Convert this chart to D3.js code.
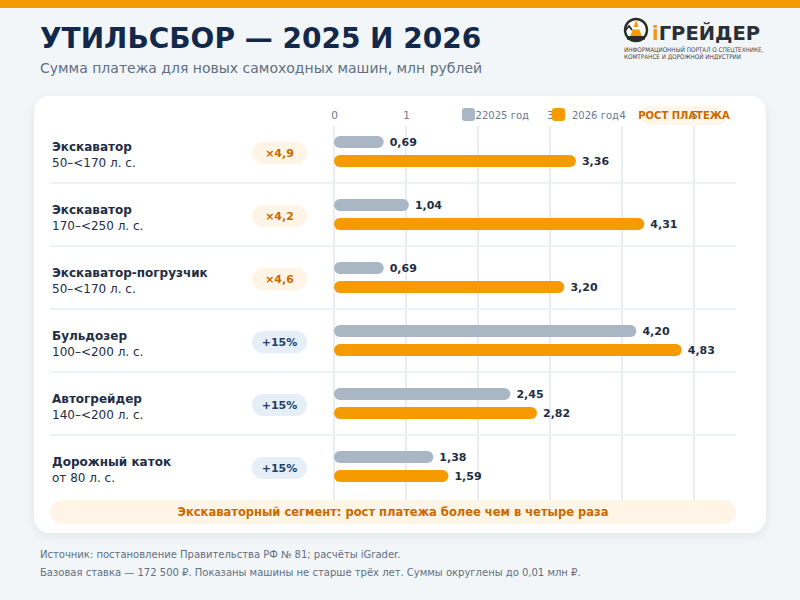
<!DOCTYPE html>
<html><head><meta charset="utf-8">
<script src="https://cdn.jsdelivr.net/npm/d3@7"></script>
<style>
html,body{margin:0;padding:0;background:#f3f6f9;}
svg{display:block;font-family:"DejaVu Sans",sans-serif;}
</style></head>
<body>
<svg id="c" width="800" height="600"></svg>
<script>
const names = ["Экскаватор","Экскаватор","Экскаватор-погрузчик","Бульдозер","Автогрейдер","Дорожный каток"];
const powers = ["50–<170 л. с.","170–<250 л. с.","50–<170 л. с.","100–<200 л. с.","140–<200 л. с.","от 80 л. с."];
const values2025 = [0.69,1.04,0.69,4.20,2.45,1.38];
const values2026 = [3.36,4.31,3.20,4.83,2.82,1.59];
const growth = ["×4,9","×4,2","×4,6","+15%","+15%","+15%"];
const growthType = ["x","x","x","p","p","p"];
const ticks = [0,1,2,3,4,5];
const seriesNames = ["2025 год","2026 год"];

const svg = d3.select("#c");
const fmt = v => v.toFixed(2).replace(".", ",");
const navy = "#13294b", dark = "#1e2d44", grey = "#5f6f82";
const cGray = "#a9b6c3", cOrange = "#f59b00", cBadgeTxt = "#c96a00";

const defs = svg.append("defs");
const f = defs.append("filter").attr("id","sh").attr("x","-10%").attr("y","-10%").attr("width","120%").attr("height","130%");
f.append("feDropShadow").attr("dx",0).attr("dy",3).attr("stdDeviation",5).attr("flood-color","#1e2d44").attr("flood-opacity",0.08);

svg.append("rect").attr("width",800).attr("height",600).attr("fill","#f3f6f9");
svg.append("rect").attr("width",800).attr("height",8).attr("fill",cOrange);

// title
svg.append("text").attr("x",40).attr("y",48).attr("font-size",28).attr("font-weight","bold").attr("fill",navy)
  .text("УТИЛЬСБОР — 2025 И 2026");
svg.append("text").attr("x",40).attr("y",73).attr("font-size",14).attr("fill",grey)
  .text("Сумма платежа для новых самоходных машин, млн рублей");

// logo
const lg = svg.append("g");
lg.append("circle").attr("cx",636).attr("cy",30).attr("r",11).attr("fill","#fff").attr("stroke","#2b2b2b").attr("stroke-width",2.4);
lg.append("path").attr("d","M636,20 L642,37 L630,37 Z").attr("fill",cOrange);
lg.append("rect").attr("x",631).attr("y",27).attr("width",10).attr("height",2.4).attr("fill","#fff");
lg.append("rect").attr("x",627).attr("y",36).attr("width",18).attr("height",4).attr("rx",1.5).attr("fill","#2b2b2b");
lg.append("path").attr("d","M625,31 L629,26 L632,30").attr("fill","none").attr("stroke","#2b2b2b").attr("stroke-width",1.8);
const lt = lg.append("text").attr("x",652).attr("y",40).attr("font-size",19.5).attr("font-weight","bold").attr("fill","#2b2f36");
lt.append("tspan").attr("fill",cOrange).text("i");
lt.append("tspan").text("ГРЕЙДЕР");
lg.append("text").attr("x",624).attr("y",52).attr("font-size",6.3).attr("fill","#444").attr("font-family","DejaVu Sans Condensed, DejaVu Sans").text("ИНФОРМАЦИОННЫЙ ПОРТАЛ О СПЕЦТЕХНИКЕ,");
lg.append("text").attr("x",624).attr("y",59).attr("font-size",6.3).attr("fill","#444").attr("font-family","DejaVu Sans Condensed, DejaVu Sans").text("КОМТРАНСЕ И ДОРОЖНОЙ ИНДУСТРИИ");

// card
svg.append("rect").attr("x",34).attr("y",96).attr("width",732).attr("height",437).attr("rx",16)
  .attr("fill","#fff").attr("filter","url(#sh)");

const x = d3.scaleLinear().domain([0,5.5]).range([334,730]);
const rowTop = 120, rowH = 63;
const y = d3.scaleBand().domain(d3.range(names.length)).range([rowTop, rowTop + rowH*names.length]);

// gridlines
svg.append("g").selectAll("line").data(ticks).join("line")
  .attr("x1",d=>x(d)).attr("x2",d=>x(d)).attr("y1",126).attr("y2",500)
  .attr("stroke","#e9edf2").attr("stroke-width",2);

// badge background for growth header
svg.append("rect").attr("x",641).attr("y",106).attr("width",86).attr("height",19).attr("rx",9.5).attr("fill","#fff5e8");

// axis tick labels
const axis = d3.axisTop(x).tickValues(ticks).tickSize(0).tickFormat(d=>String(d));
const ag = svg.append("g").attr("transform","translate(0,122)").call(axis);
ag.select(".domain").remove();
ag.selectAll("text").attr("font-size",10.5).attr("fill","#6b7b8d").attr("font-family","DejaVu Sans").attr("dy",0);

// legend
const legX = [462,552], legCol=[cGray,cOrange];
seriesNames.forEach((s,i)=>{
  svg.append("rect").attr("x",legX[i]).attr("y",108).attr("width",13).attr("height",13).attr("rx",3).attr("fill",legCol[i]);
  svg.append("text").attr("x",legX[i]+20).attr("y",119).attr("font-size",10).attr("fill","#6b7b8d").text(s);
});
svg.append("text").attr("x",684).attr("y",119).attr("text-anchor","middle").attr("font-size",10).attr("font-weight","bold").attr("fill",cBadgeTxt).text("РОСТ ПЛАТЕЖА");

// rows
const rows = svg.append("g").selectAll("g").data(names).join("g").attr("transform",(d,i)=>`translate(0,${y(i)})`);
rows.filter((d,i)=>i<names.length-1).append("line").attr("x1",50).attr("x2",736).attr("y1",rowH).attr("y2",rowH)
  .attr("stroke","#eef2f6").attr("stroke-width",2);
rows.append("text").attr("x",52).attr("y",31).attr("font-size",12).attr("font-weight","bold").attr("fill",dark).text(d=>d);
rows.append("text").attr("x",52).attr("y",47).attr("font-size",12).attr("fill",dark).text((d,i)=>powers[i]);

// badges
rows.append("rect").attr("x",252).attr("y",22).attr("width",55).attr("height",22).attr("rx",11)
  .attr("fill",(d,i)=>growthType[i]==="x"?"#fff4e5":"#e6eef8");
rows.append("text").attr("x",279.5).attr("y",37).attr("text-anchor","middle").attr("font-size",11).attr("font-weight","bold")
  .attr("fill",(d,i)=>growthType[i]==="x"?cBadgeTxt:"#1f4068").text((d,i)=>growth[i]);

// bars
const bh = 12;
rows.append("rect").attr("x",x(0)).attr("y",16).attr("height",bh).attr("rx",bh/2)
  .attr("width",(d,i)=>x(values2025[i])-x(0)).attr("fill",cGray);
rows.append("rect").attr("x",x(0)).attr("y",35).attr("height",bh).attr("rx",bh/2)
  .attr("width",(d,i)=>x(values2026[i])-x(0)).attr("fill",cOrange);
rows.append("text").attr("x",(d,i)=>x(values2025[i])+6).attr("y",26).attr("font-size",11).attr("font-weight","bold").attr("fill",dark)
  .text((d,i)=>fmt(values2025[i]));
rows.append("text").attr("x",(d,i)=>x(values2026[i])+6).attr("y",45).attr("font-size",11).attr("font-weight","bold").attr("fill",dark)
  .text((d,i)=>fmt(values2026[i]));

// note
svg.append("rect").attr("x",50).attr("y",500).attr("width",686).attr("height",24).attr("rx",12).attr("fill","#fff5e6");
svg.append("text").attr("x",393).attr("y",516).attr("text-anchor","middle").attr("font-size",11.5).attr("font-weight","bold").attr("fill",cBadgeTxt)
  .text("Экскаваторный сегмент: рост платежа более чем в четыре раза");

// footer
svg.append("text").attr("x",40).attr("y",558).attr("font-size",10).attr("fill",grey)
  .text("Источник: постановление Правительства РФ № 81; расчёты iGrader.");
svg.append("text").attr("x",40).attr("y",576).attr("font-size",10).attr("fill",grey)
  .text("Базовая ставка — 172 500 ₽. Показаны машины не старше трёх лет. Суммы округлены до 0,01 млн ₽.");
</script>
</body></html>
